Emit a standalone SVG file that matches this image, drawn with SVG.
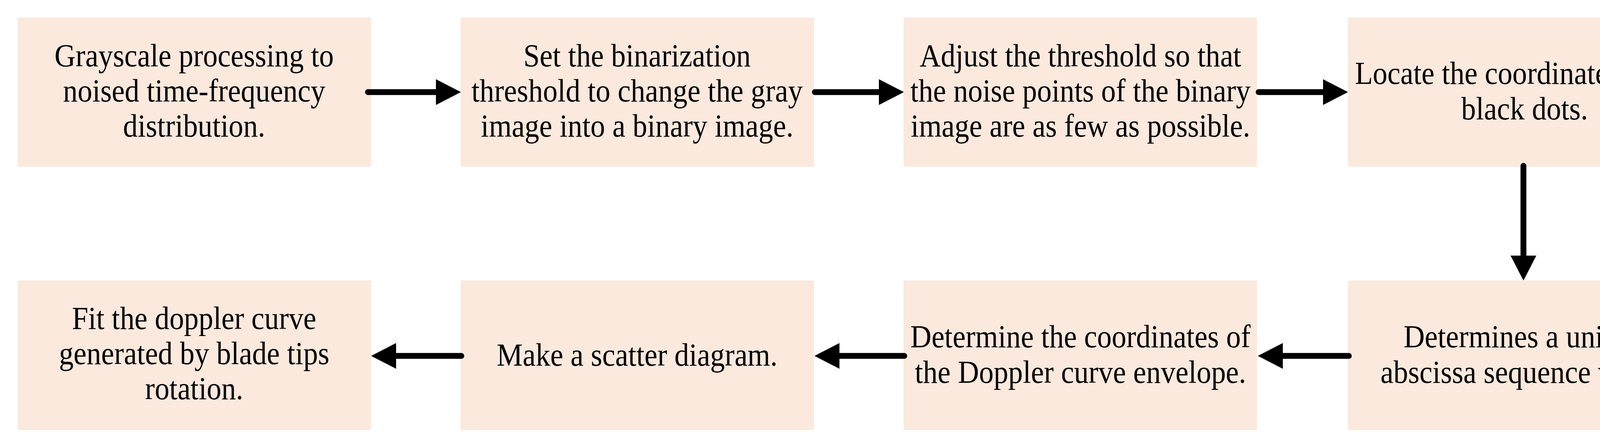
<svg xmlns="http://www.w3.org/2000/svg" width="4406" height="1148" viewBox="0 0 4406 1148">
<style>
.b{fill:#fbe9dd}
.t{font-family:"Liberation Serif","Times New Roman",serif;font-size:82px;fill:#000;text-anchor:middle}
.c{stroke:#000;stroke-width:15;stroke-linecap:round;fill:none}
</style>
<defs>
<marker id="ah" markerUnits="userSpaceOnUse" markerWidth="64" markerHeight="66" refX="0" refY="33" orient="auto" viewBox="0 0 64 66">
<path d="M0,0 L64,33 L0,66 Z" fill="#000"/>
</marker>
</defs>
<rect width="4406" height="1148" fill="#fff"/>
<g id="n1"><rect class="b" x="45" y="45" width="905" height="382"/>
<g transform="translate(497,0) scale(0.913,1)"><text class="t" x="0" y="170">Grayscale processing to</text><text class="t" x="0" y="260">noised time-frequency</text><text class="t" x="0" y="350">distribution.</text></g></g>
<g id="n2"><rect class="b" x="1179" y="45" width="905" height="382"/>
<g transform="translate(1631,0) scale(0.913,1)"><text class="t" x="0" y="170">Set the binarization</text><text class="t" x="0" y="260">threshold to change the gray</text><text class="t" x="0" y="350">image into a binary image.</text></g></g>
<g id="n3"><rect class="b" x="2313" y="45" width="905" height="382"/>
<g transform="translate(2766,0) scale(0.913,1)"><text class="t" x="0" y="170">Adjust the threshold so that</text><text class="t" x="0" y="260">the noise points of the binary</text><text class="t" x="0" y="350">image are as few as possible.</text></g></g>
<g id="n4"><rect class="b" x="3451" y="45" width="905" height="382"/>
<g transform="translate(3903,0) scale(0.913,1)"><text class="t" x="0" y="215">Locate the coordinates of the</text><text class="t" x="0" y="306">black dots.</text></g></g>
<g id="n5"><rect class="b" x="3451" y="719" width="905" height="383"/>
<g transform="translate(3903,0) scale(0.913,1)"><text class="t" x="0" y="890">Determines a unique</text><text class="t" x="0" y="981">abscissa sequence value.</text></g></g>
<g id="n6"><rect class="b" x="2313" y="719" width="905" height="383"/>
<g transform="translate(2766,0) scale(0.913,1)"><text class="t" x="0" y="890">Determine the coordinates of</text><text class="t" x="0" y="981">the Doppler curve envelope.</text></g></g>
<g id="n7"><rect class="b" x="1179" y="719" width="905" height="383"/>
<g transform="translate(1631,0) scale(0.913,1)"><text class="t" x="0" y="937">Make a scatter diagram.</text></g></g>
<g id="n8"><rect class="b" x="45" y="719" width="905" height="383"/>
<g transform="translate(497,0) scale(0.913,1)"><text class="t" x="0" y="843">Fit the doppler curve</text><text class="t" x="0" y="933">generated by blade tips</text><text class="t" x="0" y="1023">rotation.</text></g></g>
<g id="connectors">
<path class="c" d="M942,236 H1116" marker-end="url(#ah)"/>
<path class="c" d="M2086,236 H2250" marker-end="url(#ah)"/>
<path class="c" d="M3222,236 H3387" marker-end="url(#ah)"/>
<path class="c" d="M3900,425 V655" marker-end="url(#ah)"/>
<path class="c" d="M3453,912 H3284" marker-end="url(#ah)"/>
<path class="c" d="M2315,912 H2149" marker-end="url(#ah)"/>
<path class="c" d="M1181,912 H1014" marker-end="url(#ah)"/>
</g>
</svg>
